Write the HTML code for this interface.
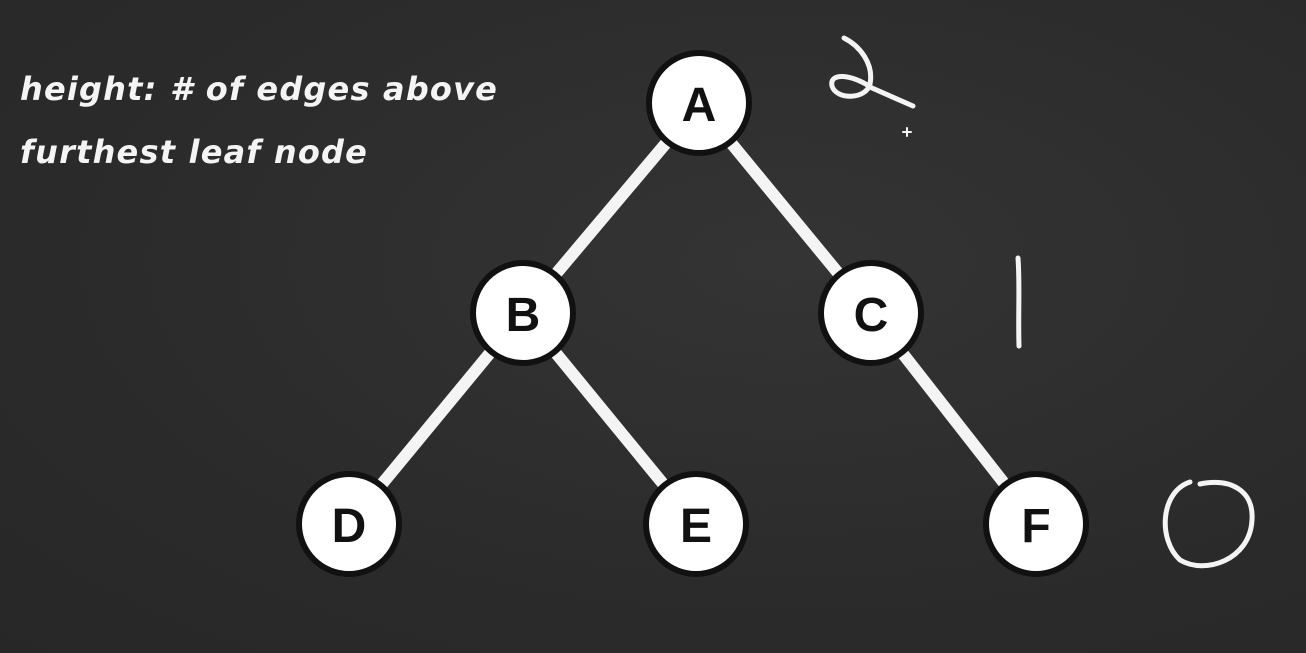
<!DOCTYPE html>
<html><head><meta charset="utf-8"><style>
html,body{margin:0;padding:0;background:#2c2c2c;}
body{width:1306px;height:653px;overflow:hidden;position:relative;
background:radial-gradient(ellipse at 60% 40%,#343434 0%,#2b2b2b 60%,#272727 100%);}
.t{position:absolute;left:20px;color:#f4f4f4;font-family:"DejaVu Sans","Liberation Sans",sans-serif;font-style:italic;font-weight:bold;font-size:32px;letter-spacing:1.2px;white-space:nowrap;}
</style></head><body>
<div class="t" style="top:70px">height: # of edges above</div>
<div class="t" style="top:133px">furthest leaf node</div>
<svg width="1306" height="653" style="position:absolute;left:0;top:0">
<g stroke="#f4f4f4" stroke-width="12" stroke-linecap="round">
<line x1="699" y1="104" x2="523" y2="313"/>
<line x1="699" y1="104" x2="871" y2="313"/>
<line x1="523" y1="313" x2="349" y2="524"/>
<line x1="523" y1="313" x2="696" y2="524"/>
<line x1="871" y1="313" x2="1036" y2="524"/>
</g>
<g font-family="Liberation Sans,sans-serif" font-weight="bold" font-size="48" text-anchor="middle" fill="#111">
<g><circle cx="699" cy="103" r="50" fill="#fff" stroke="#111" stroke-width="6"/><text x="699" y="121">A</text></g>
<g><circle cx="523" cy="313" r="50" fill="#fff" stroke="#111" stroke-width="6"/><text x="523" y="331">B</text></g>
<g><circle cx="871" cy="313" r="50" fill="#fff" stroke="#111" stroke-width="6"/><text x="871" y="331">C</text></g>
<g><circle cx="349" cy="524" r="50" fill="#fff" stroke="#111" stroke-width="6"/><text x="349" y="542">D</text></g>
<g><circle cx="696" cy="524" r="50" fill="#fff" stroke="#111" stroke-width="6"/><text x="696" y="542">E</text></g>
<g><circle cx="1036" cy="524" r="50" fill="#fff" stroke="#111" stroke-width="6"/><text x="1036" y="542">F</text></g>
</g>
<g fill="none" stroke="#f4f4f4" stroke-width="5" stroke-linecap="round" stroke-linejoin="round">
<path d="M844 38 C860 46 874 64 870 84 C866 100 836 100 832 86 C829 72 852 74 872 88 L913 106"/>
<path d="M1018 258 C1020 285 1018 315 1019 346"/>
<path d="M1190 482 C1160 492 1158 540 1180 560 C1205 575 1250 560 1252 520 C1254 490 1230 478 1200 484"/>
<path d="M903 132 h8 M907 128 v8" stroke-width="2"/>
</g>
</svg>
</body></html>
